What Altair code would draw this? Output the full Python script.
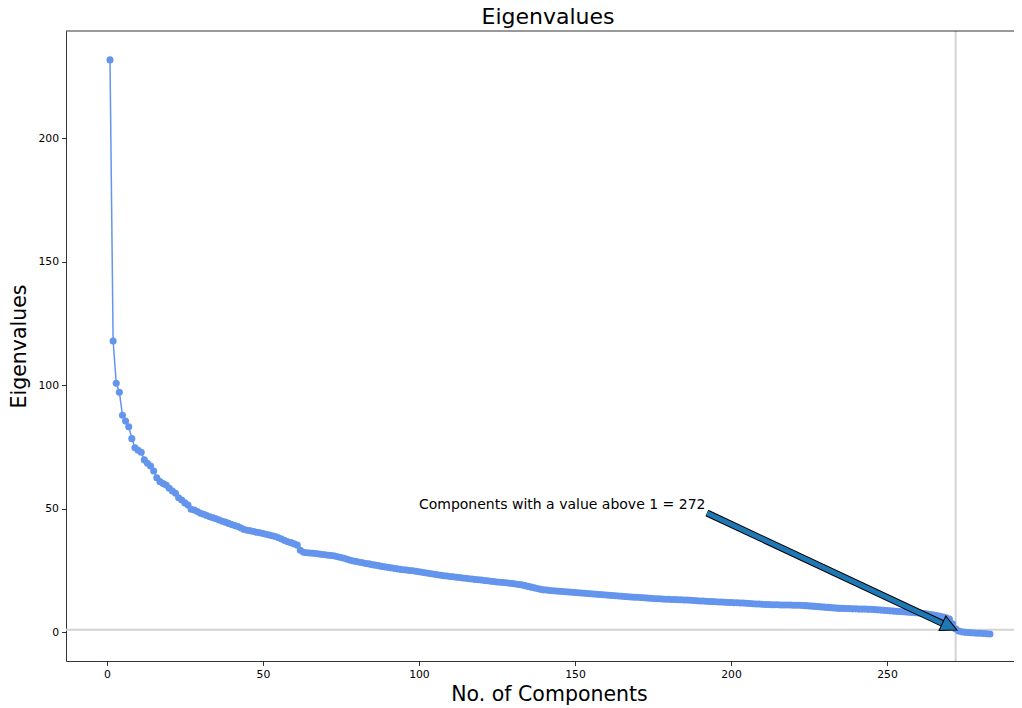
import altair as alt
import pandas as pd

# ---- data ----
components = list(range(1, 284))
eigenvalues = [
    231.7, 117.9, 100.8, 97.2, 87.9, 85.5, 83.2, 78.4, 74.7, 73.7,
    72.9, 69.8, 68.4, 67.3, 65.3, 62.6, 61.0, 60.2, 59.6, 58.3,
    57.2, 56.3, 54.5, 53.6, 52.4, 51.5, 49.8, 49.5, 48.9, 48.2,
    47.8, 47.3, 46.8, 46.4, 46.0, 45.5, 45.0, 44.6, 44.1, 43.6,
    43.2, 42.8, 42.2, 41.6, 41.3, 41.1, 40.8, 40.5, 40.3, 40.0,
    39.7, 39.4, 39.1, 38.8, 38.3, 37.8, 37.2, 36.7, 36.3, 35.8,
    35.3, 33.2, 32.4, 32.2, 32.1, 32.0, 31.9, 31.7, 31.5, 31.4,
    31.2, 31.1, 30.9, 30.6, 30.3, 30.0, 29.6, 29.2, 28.9, 28.7,
    28.4, 28.2, 27.9, 27.7, 27.4, 27.2, 27.0, 26.7, 26.5, 26.3,
    26.1, 25.9, 25.7, 25.5, 25.3, 25.2, 25.0, 24.9, 24.7, 24.5,
    24.3, 24.1, 23.9, 23.7, 23.5, 23.3, 23.1, 22.9, 22.8, 22.6,
    22.5, 22.3, 22.2, 22.0, 21.9, 21.7, 21.6, 21.4, 21.3, 21.2,
    21.0, 20.9, 20.7, 20.6, 20.4, 20.3, 20.2, 20.1, 19.9, 19.8,
    19.6, 19.4, 19.2, 18.9, 18.6, 18.3, 18.0, 17.7, 17.4, 17.2,
    17.1, 16.9, 16.8, 16.7, 16.6, 16.5, 16.4, 16.3, 16.2, 16.1,
    16.0, 15.9, 15.8, 15.7, 15.6, 15.5, 15.4, 15.3, 15.2, 15.1,
    15.0, 14.9, 14.8, 14.7, 14.6, 14.5, 14.4, 14.3, 14.2, 14.2,
    14.1, 14.0, 13.9, 13.8, 13.7, 13.6, 13.6, 13.5, 13.4, 13.4,
    13.3, 13.3, 13.2, 13.2, 13.1, 13.1, 13.0, 12.9, 12.8, 12.7,
    12.7, 12.6, 12.5, 12.5, 12.4, 12.3, 12.3, 12.2, 12.1, 12.1,
    12.0, 12.0, 11.9, 11.9, 11.8, 11.7, 11.6, 11.5, 11.5, 11.4,
    11.3, 11.3, 11.2, 11.2, 11.2, 11.1, 11.1, 11.1, 11.1, 11.0,
    11.0, 11.0, 10.9, 10.8, 10.7, 10.6, 10.5, 10.4, 10.3, 10.2,
    10.1, 10.0, 9.9, 9.8, 9.7, 9.7, 9.6, 9.6, 9.5, 9.5,
    9.4, 9.4, 9.4, 9.3, 9.3, 9.2, 9.1, 9.0, 8.9, 8.8,
    8.7, 8.6, 8.5, 8.4, 8.3, 8.2, 8.1, 8.0, 7.9, 7.8,
    7.7, 7.6, 7.4, 7.2, 7.0, 6.8, 6.5, 6.2, 5.9, 5.4,
    3.5, 1.4, 0.5, 0.2, 0.0, -0.1, -0.2, -0.3, -0.4, -0.4,
    -0.5, -0.6, -0.7,
]

x_ticks = [0, 50, 100, 150, 200, 250]
y_ticks = [0, 50, 100, 150, 200]

chart_title = ["Eigenvalues"]
threshold_value = 1
n_above = 272
annot_text = ["Components with a value above 1 = 272"]
annot_text_pos = [100, 50]
arrow_tail = [192.3, 48.3]
arrow_head_base = [267.8, 3.6]
arrow_head_center = [270.1, 2.3]

FONT = "DejaVu Sans"
LINE_COLOR = "#6495ED"

df = pd.DataFrame({"n": components, "ev": eigenvalues})

xscale = alt.Scale(domain=[-13.1, 290.7], nice=False, zero=False)
yscale = alt.Scale(domain=[-11.6, 243.4], nice=False, zero=False)

x_enc = alt.X(
    "n:Q", scale=xscale,
    axis=alt.Axis(values=x_ticks, title="No. of Components", titleX=483),
)
y_enc = alt.Y("ev:Q", scale=yscale, axis=alt.Axis(values=y_ticks, title="Eigenvalues"))

base = alt.Chart(df)

hline = alt.Chart(pd.DataFrame({"y": [threshold_value]})).mark_rule(
    color="#d3d3d3", strokeWidth=2
).encode(y=alt.Y("y:Q", scale=yscale))

vline = alt.Chart(pd.DataFrame({"x": [n_above]})).mark_rule(
    color="#d3d3d3", strokeWidth=2
).encode(x=alt.X("x:Q", scale=xscale))

line = base.mark_line(color=LINE_COLOR, strokeWidth=1.5).encode(x=x_enc, y=y_enc)
pts = base.mark_circle(color=LINE_COLOR, size=50, opacity=1).encode(x="n:Q", y="ev:Q")

top_border = alt.Chart(pd.DataFrame({"a": [0]})).mark_rule(
    color="black", strokeWidth=0.8
).encode(y=alt.value(0))

title_mark = alt.Chart(pd.DataFrame({"t": chart_title})).mark_text(
    align="center", baseline="alphabetic", fontSize=22, font=FONT, color="black"
).encode(x=alt.value(482), y=alt.value(-7.5), text="t:N")

text_df = pd.DataFrame({"x": [annot_text_pos[0]], "y": [annot_text_pos[1]], "t": annot_text})
text = alt.Chart(text_df).mark_text(
    align="left", baseline="alphabetic", fontSize=14, font=FONT, color="black"
).encode(x="x:Q", y="y:Q", text="t:N")

shaft_df = pd.DataFrame({
    "x": [arrow_tail[0]], "y": [arrow_tail[1]],
    "x2": [arrow_head_base[0]], "y2": [arrow_head_base[1]],
})
shaft_outline = alt.Chart(shaft_df).mark_rule(color="black", strokeWidth=7).encode(
    x="x:Q", y="y:Q", x2="x2:Q", y2="y2:Q"
)
shaft_fill = alt.Chart(shaft_df).mark_rule(color="#1f77b4", strokeWidth=5).encode(
    x="x:Q", y="y:Q", x2="x2:Q", y2="y2:Q"
)
head_df = pd.DataFrame({"x": [arrow_head_center[0]], "y": [arrow_head_center[1]]})
head = alt.Chart(head_df).mark_point(
    shape="M0,-1L-1,1L1,1Z", size=260, filled=True, fill="#1f77b4",
    stroke="black", strokeWidth=1, opacity=1, fillOpacity=1, angle=115,
).encode(x="x:Q", y="y:Q")

chart = alt.layer(
    hline, vline, line, pts, top_border, shaft_outline, shaft_fill, head, text, title_mark
).properties(
    width=948,
    height=630,
    autosize=alt.AutoSizeParams(type="none"),
    padding={"left": 58, "top": 23, "right": 0, "bottom": 47},
).configure_view(stroke=None).configure_axis(
    grid=False,
    domainColor="black",
    domainWidth=0.8,
    tickColor="black",
    tickWidth=0.8,
    tickSize=4.5,
    labelFont=FONT,
    labelFontSize=10.8,
    labelColor="black",
    labelPadding=3,
    titleFont=FONT,
    titleFontSize=20.5,
    titleFontWeight="normal",
    titleColor="black",
).configure_axisX(titlePadding=5).configure_axisY(titlePadding=8)

chart.save("out.html", embed_options={"renderer": "svg", "actions": False})
